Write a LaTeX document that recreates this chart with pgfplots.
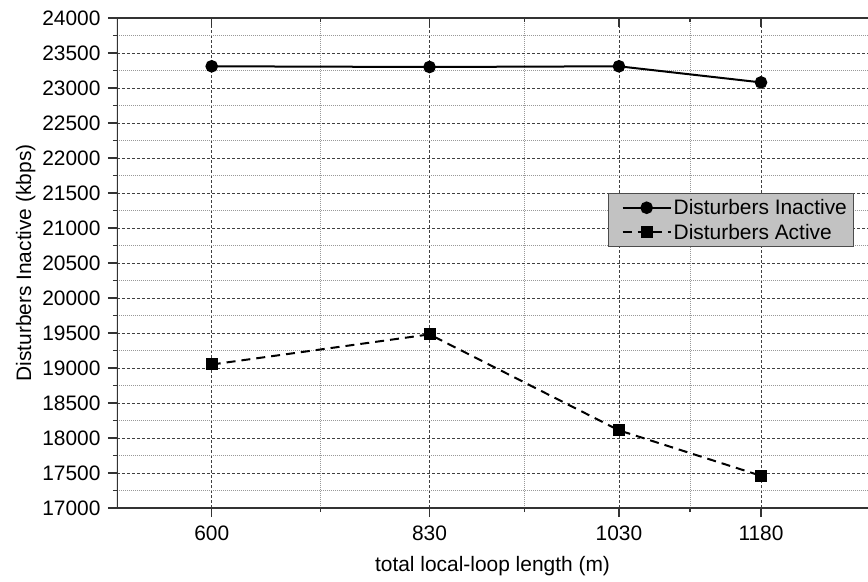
\documentclass[border=0pt]{standalone}
\usepackage{fontspec}
\setmainfont{Liberation Sans}
\usepackage{pgfplots}
\pgfplotsset{compat=1.18}
\newcommand{\chartfont}{\fontsize{21}{25}\selectfont}
\begin{document}
\begin{tikzpicture}[font=\chartfont]
\begin{axis}[
  scale only axis, width=751bp, height=490bp,
  xmin=500, xmax=1293, ymin=17000, ymax=24000,
  xtick={600,830,1030,1180}, minor xtick={715,930,1105},
  ytick={17000,17500,...,24000}, minor y tick num=1,
  scaled y ticks=false, scaled x ticks=false,
  /pgf/number format/assume math mode=true,
  /pgf/number format/1000 sep={},
  tick label style={font=\chartfont},
  label style={font=\chartfont},
  tick align=outside, xtick pos=left, ytick pos=left,
  major tick length=9bp, minor tick length=4bp,
  every tick/.style={black!80, line width=1.2bp},
  axis line style={draw=none},
  grid=both,
  major grid style={black!75, line width=0.8bp, dash pattern=on 3bp off 2bp},
  minor grid style={gray!80, line width=0.8bp, dash pattern=on 1bp off 1bp},
  yticklabel style={xshift=-4bp},
  xticklabel style={yshift=-5bp},
  xlabel={total local-loop length (m)},
  ylabel={Disturbers Inactive (kbps)},
  xlabel style={yshift=-9bp},
  legend style={at={(rel axis cs:0.654,0.643)}, anchor=north west,
    fill=gray!48, draw=gray!60!black, line width=1bp,
    font=\chartfont, inner xsep=5bp, inner ysep=4bp,
    row sep=4bp},
  legend image code/.code={\path (0bp,0bp) (56bp,0bp); \draw[mark repeat=2,mark phase=2,#1] plot coordinates {(8bp,0bp)(32bp,0bp)(56bp,0bp)};},
  legend cell align=left,
]
\addplot[black, line width=2bp, mark=*, mark size=5.3bp] coordinates {(600,23310)(830,23300)(1030,23310)(1180,23080)};
\addlegendentry{Disturbers Inactive}
\addplot[black, line width=2bp, dash pattern=on 9bp off 6bp, mark=square*, mark size=5bp, mark options={solid}] coordinates {(600,19050)(830,19480)(1030,18110)(1180,17460)};
\addlegendentry{Disturbers Active}
\draw[black!80, line width=1.5bp] (rel axis cs:1,1) -- (rel axis cs:0,1) -- (rel axis cs:0,0) -- (rel axis cs:1,0);
\draw[black!80, line width=1.2bp] (axis cs:600,24000) -- ++(0pt,-9bp);
\draw[black!80, line width=1.2bp] (axis cs:830,24000) -- ++(0pt,-9bp);
\draw[black!80, line width=1.2bp] (axis cs:1030,24000) -- ++(0pt,-9bp);
\draw[black!80, line width=1.2bp] (axis cs:1180,24000) -- ++(0pt,-9bp);
\draw[black!80, line width=1.2bp] (axis cs:715,24000) -- ++(0pt,-4bp);
\draw[black!80, line width=1.2bp] (axis cs:930,24000) -- ++(0pt,-4bp);
\draw[black!80, line width=1.2bp] (axis cs:1105,24000) -- ++(0pt,-4bp);
\end{axis}
\pgfresetboundingbox
\path (-117bp,-74bp) rectangle (751bp,508bp);
\end{tikzpicture}
\end{document}
